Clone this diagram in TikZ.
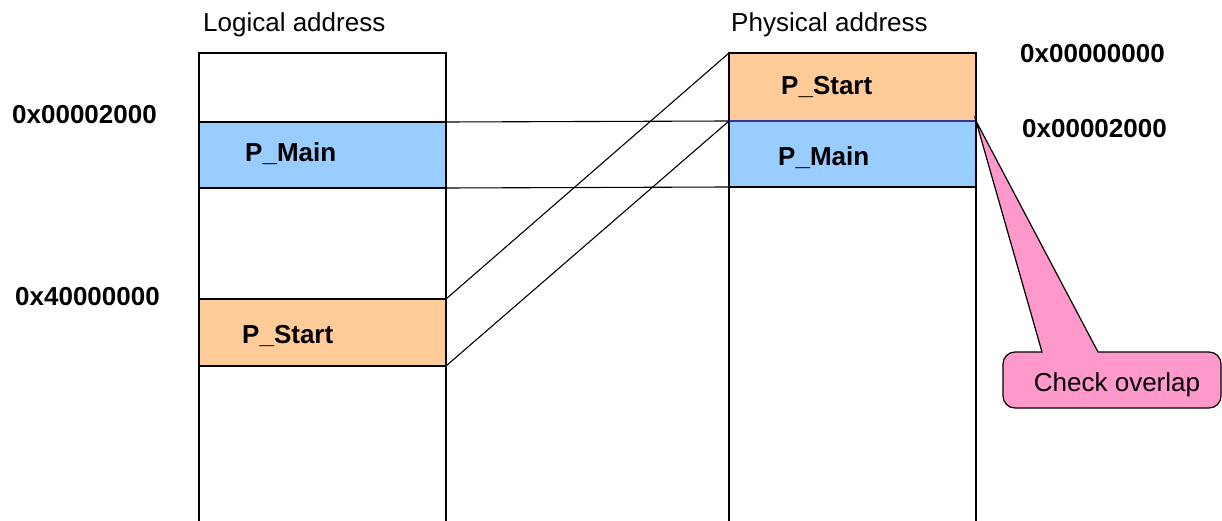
\documentclass[tikz,border=0pt]{standalone}
\usepackage{fontspec}
\setmainfont{Liberation Sans}
\definecolor{mainblue}{RGB}{153,204,255}
\definecolor{startorange}{RGB}{255,204,153}
\definecolor{notepink}{RGB}{255,153,204}
\definecolor{sepblue}{RGB}{51,51,153}
\begin{document}
\begin{tikzpicture}[x=1pt,y=-1pt,
  memcol/.style={draw, line width=1.2pt, minimum width=247pt, inner sep=0pt, outer sep=0pt, anchor=north west},
  memseg/.style={memcol},
  link/.style={line width=1.1pt},
  plain/.style={inner sep=0pt, anchor=base west, font=\fontsize{26}{30}\selectfont},
  addr/.style={plain, font=\fontsize{26}{30}\selectfont\bfseries}
]
\useasboundingbox (0,0) rectangle (1222,521);

% memory columns
\node[memcol, minimum height=472pt] (lcol) at (199,53) {};
\node[memcol, minimum height=472pt] (rcol) at (729,53) {};

% segments in logical space
\node[memseg, fill=mainblue, minimum height=66pt] (lmain) at (199,122) {};
\node[memseg, fill=startorange, minimum height=67pt] (lstart) at (199,299) {};

% segments in physical space
\node[memseg, fill=startorange, minimum height=68pt] (rstart) at (729,53) {};
\node[memseg, fill=mainblue, minimum height=66pt] (rmain) at (729,121) {};
\draw[sepblue, line width=2.4pt] (rmain.north west) -- (rmain.north east);

% mapping lines
\draw[link] (lmain.north east) -- (rmain.north west);
\draw[link] (lmain.south east) -- (rmain.south west);
\draw[link] (lstart.north east) -- (rstart.north west);
\draw[link] (lstart.south east) -- (rstart.south west);

% column titles
\node[plain] (ltitle) at (203,32) {Logical address};
\node[plain] (rtitle) at (731,32) {Physical address};

% segment names
\node[addr] (lmainlbl) at (245,162) {P\_Main};
\node[addr] (lstartlbl) at (242,343) {P\_Start};
\node[addr] (rstartlbl) at (781,95) {P\_Start};
\node[addr] (rmainlbl) at (778,166) {P\_Main};

% addresses
\node[addr] (a2000l) at (12,124) {0x00002000};
\node[addr] (a4000) at (15,305) {0x40000000};
\node[addr] (a0000r) at (1020,63) {0x00000000};
\node[addr] (a2000r) at (1022,138) {0x00002000};

% callout
\coordinate (tip) at (rmain.north east);
\draw[fill=notepink, line width=1.2pt]
  (tip) -- (1098,352) [rounded corners=12pt] -- (1221,352) -- (1221,408)
  -- (1003,408) -- (1003,352) [sharp corners] -- (1042,352) -- cycle;
\node[plain, anchor=base] (note) at (1117,391) {Check overlap};
\end{tikzpicture}
\end{document}
